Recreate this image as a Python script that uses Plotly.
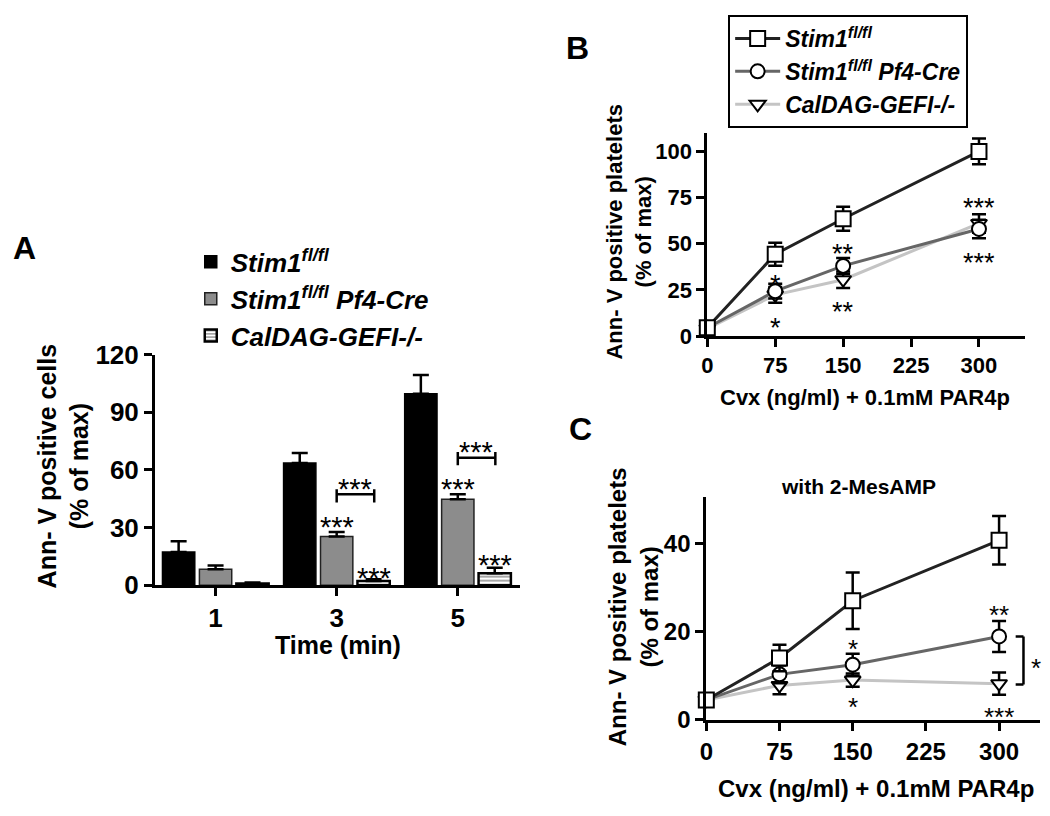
import plotly.graph_objects as go

W, H = 1050, 816
FONT = "Liberation Sans, Arial, sans-serif"


def px(x):
    return x / W


def py(y):
    return 1 - y / H


# ---------------- Data ----------------
# Panel A (bars)
time_labels = ["1", "3", "5"]
a_stim1 = [17.3, 63.6, 99.6]
a_stim1_err = [5.6, 5.2, 9.8]
a_pf4 = [8.3, 25.4, 44.7]
a_pf4_err = [2.0, 2.3, 2.7]
a_caldag = [0.9, 2.2, 6.2]
a_caldag_err = [0.5, 0.9, 2.9]

# Panel B (dose response)
cvx_dose = [0, 75, 150, 300]
b_stim1 = [4.5, 44.3, 63.5, 100.0]
b_stim1_err = [1.0, 6.2, 6.5, 7.0]
b_pf4 = [4.5, 24.3, 38.0, 58.0]
b_pf4_err = [1.0, 4.0, 4.3, 5.0]
b_caldag = [4.0, 22.3, 30.5, 61.0]
b_caldag_err = [1.0, 4.2, 4.5, 5.0]

# Panel C (dose response with 2-MesAMP)
c_stim1 = [4.5, 14.0, 27.0, 40.7]
c_stim1_err = [0.8, 3.0, 6.4, 5.5]
c_pf4 = [4.5, 10.3, 12.5, 18.9]
c_pf4_err = [0.8, 2.0, 2.5, 3.5]
c_caldag = [4.5, 7.8, 9.0, 8.2]
c_caldag_err = [0.8, 2.0, 1.5, 2.5]

names = ["<b><i>Stim1<sup>fl/fl</sup></i></b>",
         "<b><i>Stim1<sup>fl/fl</sup> Pf4-Cre</i></b>",
         "<b><i>CalDAG-GEFI-/-</i></b>"]

fig = go.Figure()

# ---------------- Panel A bars ----------------
bar_specs = [
    (a_stim1, a_stim1_err, dict(color="black", line=dict(color="black", width=1.5))),
    (a_pf4, a_pf4_err, dict(color="#8c8c8c", line=dict(color="#222", width=1.5))),
    (a_caldag, a_caldag_err, dict(color="white", line=dict(color="black", width=2.5),
                                  pattern=dict(shape="-", fgcolor="black", bgcolor="white",
                                               size=4, solidity=0.35))),
]
for i, (vals, errs, mk) in enumerate(bar_specs):
    fig.add_trace(go.Bar(
        x=time_labels, y=vals, name=names[i], marker=mk,
        error_y=dict(type="data", array=errs, arrayminus=[0] * len(errs), symmetric=False,
                     color="black", thickness=2.5, width=8),
        xaxis="x", yaxis="y", legend="legend", cliponaxis=False,
    ))

# ---------------- Panels B and C lines ----------------
line_styles = [
    dict(color="#222222", symbol="square", size=15, rank=1),
    dict(color="#666666", symbol="circle", size=14, rank=2),
    dict(color="#c4c4c4", symbol="triangle-down", size=14, rank=3),
]
b_sets = [(b_stim1, b_stim1_err), (b_pf4, b_pf4_err), (b_caldag, b_caldag_err)]
c_sets = [(c_stim1, c_stim1_err), (c_pf4, c_pf4_err), (c_caldag, c_caldag_err)]

for sets, xa, ya, show in [(b_sets, "x2", "y2", True), (c_sets, "x3", "y3", False)]:
    for i in [2, 1, 0]:
        vals, errs = sets[i]
        st = line_styles[i]
        fig.add_trace(go.Scatter(
            x=cvx_dose, y=vals, mode="lines+markers", name=names[i],
            line=dict(color=st["color"], width=3),
            marker=dict(symbol=st["symbol"], size=st["size"], color="white",
                        line=dict(color="black", width=2)),
            error_y=dict(type="data", array=errs, color="black", thickness=2.5, width=7),
            xaxis=xa, yaxis=ya, showlegend=show, legend="legend2",
            legendrank=st["rank"], cliponaxis=False,
        ))

# ---------------- Axes ----------------
axis_common = dict(showline=True, linewidth=3, linecolor="black", ticks="outside",
                   ticklen=8, tickwidth=3, tickcolor="black", showgrid=False,
                   zeroline=False, color="black")

fig.update_layout(
    width=W, height=H, margin=dict(l=0, r=0, t=0, b=0),
    paper_bgcolor="white", plot_bgcolor="white",
    font=dict(family=FONT, color="black"),
    barmode="group", bargap=0.085, bargroupgap=0.125,
    xaxis=dict(domain=[px(149), px(516)], anchor="y", type="category",
               range=[-0.5, 2.51], tickfont=dict(size=26, weight="bold"), **axis_common),
    yaxis=dict(domain=[py(592), py(352.6)], anchor="x", range=[0, 120],
               tickvals=[0, 30, 60, 90, 120], tickfont=dict(size=26, weight="bold"), **axis_common),
    xaxis2=dict(domain=[px(705), px(1025)], anchor="y2", range=[0, 351],
                tickvals=[0, 75, 150, 225, 300], tickfont=dict(size=22, weight="bold"), **axis_common),
    yaxis2=dict(domain=[py(333.3), py(123)], anchor="x2", range=[0, 109.7],
                tickvals=[0, 25, 50, 75, 100], tickfont=dict(size=22, weight="bold"), **axis_common),
    xaxis3=dict(domain=[px(704), px(1040)], anchor="y3", range=[0, 342],
                tickvals=[0, 75, 150, 225, 300], tickfont=dict(size=24, weight="bold"), **axis_common),
    yaxis3=dict(domain=[py(731.7), py(500)], anchor="x3", range=[0, 50.6],
                tickvals=[0, 20, 40], tickfont=dict(size=24, weight="bold"), **axis_common),
    legend=dict(x=px(185), y=py(232), xanchor="left", yanchor="top",
                font=dict(family=FONT, size=26, color="black"),
                bgcolor="rgba(0,0,0,0)", traceorder="normal"),
    legend2=dict(x=px(726), y=1.0, xanchor="left", yanchor="top", itemwidth=45,
                 font=dict(family=FONT, size=23, color="black"),
                 bordercolor="black", borderwidth=2, bgcolor="white", traceorder="normal"),
)

# ---------------- Text annotations ----------------
ann = []


def text_px(txt, x, y, size, angle=0):
    ann.append(dict(text=txt, x=px(x), y=py(y), xref="paper", yref="paper",
                    showarrow=False, textangle=angle, xanchor="center", yanchor="middle",
                    font=dict(family=FONT, size=size, color="black", weight="bold")))


text_px("A", 18, 242, 32)
text_px("B", 574, 34, 32)
text_px("C", 577, 430, 32)
text_px("Ann- V positive cells<br>(% of max)", 57, 468, 25, -90)
text_px("Time (min)", 333, 654, 25)
text_px("Ann- V positive platelets<br>(% of max)", 626, 225, 22, -90)
text_px("Cvx (ng/ml) + 0.1mM PAR4p", 864, 397, 22)
text_px("Ann- V positive platelets<br>(% of max)", 631, 614, 24, -90)
text_px("Cvx (ng/ml) + 0.1mM PAR4p", 875, 803, 24)
text_px("with 2-MesAMP", 857, 490, 21)


def stars(txt, x, y, xr, yr, size):
    ann.append(dict(text=txt, x=x, y=y, xref=xr, yref=yr, showarrow=False,
                    xanchor="center", yanchor="middle", yshift=-0.3 * size,
                    font=dict(family=FONT, size=size, color="black")))


# Panel A significance
stars("***", 1.0, 34.9, "x", "y", 29)
stars("***", 1.31, 8.3, "x", "y", 29)
stars("***", 1.15, 54.7, "x", "y", 29)
stars("***", 2.0, 54.7, "x", "y", 29)
stars("***", 2.15, 73.6, "x", "y", 29)
stars("***", 2.31, 15.1, "x", "y", 29)
# Panel B significance
stars("*", 75, 32, "x2", "y2", 27)
stars("*", 75, 8.7, "x2", "y2", 27)
stars("**", 150, 48.7, "x2", "y2", 27)
stars("**", 150, 17.4, "x2", "y2", 27)
stars("***", 300, 73.9, "x2", "y2", 27)
stars("***", 300, 43.8, "x2", "y2", 27)
# Panel C significance
stars("*", 150, 17.8, "x3", "y3", 26)
stars("*", 150, 4.7, "x3", "y3", 26)
stars("**", 300, 25.5, "x3", "y3", 26)
stars("***", 300, 2.5, "x3", "y3", 26)
stars("*", 338, 13.4, "x3", "y3", 26)

fig.update_layout(annotations=ann)

# ---------------- Brackets ----------------
shapes = []


def seg(x0, y0, x1, y1, xr, yr):
    shapes.append(dict(type="line", x0=x0, y0=y0, x1=x1, y1=y1, xref=xr, yref=yr,
                       line=dict(color="black", width=2.5)))


for xa, xb, yh, ytop, ybot in [(1.0, 1.31, 47.4, 49.9, 43.0), (2.0, 2.31, 66.4, 69.3, 62.4)]:
    seg(xa, yh, xb, yh, "x", "y")
    seg(xa, ytop, xa, ybot, "x", "y")
    seg(xb, ytop, xb, ybot, "x", "y")

seg(325, 8.0, 325, 18.9, "x3", "y3")
seg(317, 18.9, 325, 18.9, "x3", "y3")
seg(317, 8.0, 325, 8.0, "x3", "y3")

fig.update_layout(shapes=shapes)

# remove the browser's default body margin so the figure fills the window exactly
fig.write_html("out.html", config={"displayModeBar": False},
               post_script="document.body.style.margin='0px';document.body.style.overflow='hidden';")
